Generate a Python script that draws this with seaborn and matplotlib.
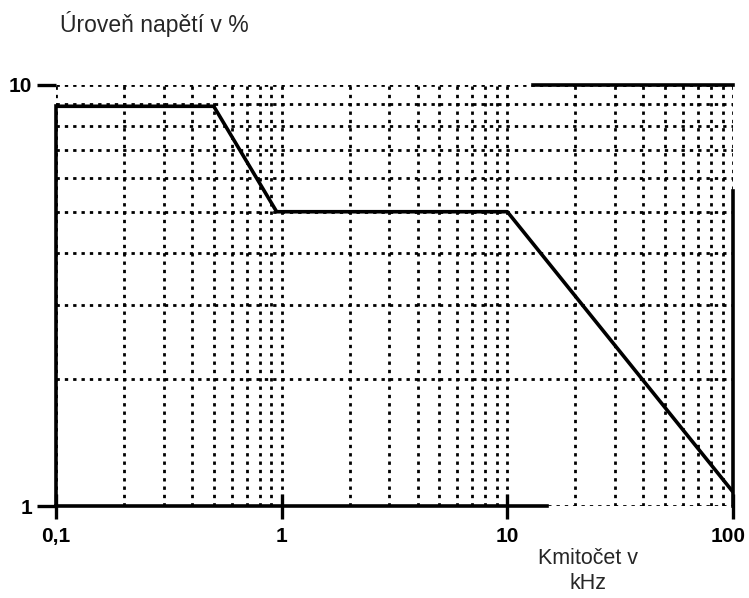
import matplotlib
matplotlib.use("Agg")
import matplotlib.pyplot as plt
import matplotlib.transforms as mtransforms
import seaborn as sns
from matplotlib.ticker import LogLocator, NullFormatter

# frequency (kHz) vs. voltage level (%)
freq_khz = [0.1, 0.5, 0.95, 10, 100]
level_pct = [8.9, 8.9, 5.0, 5.0, 1.08]

x_ticks = [0.1, 1, 10, 100]
x_labels = ["0,1", "1", "10", "100"]
y_ticks = [1, 10]
y_labels = ["1", "10"]

sns.set_style("white")
plt.rcParams["font.family"] = ["Liberation Sans", "DejaVu Sans"]

fig = plt.figure(figsize=(7.49, 5.98), dpi=100)
ax = fig.add_axes([0.0748, 0.1538, 0.9038, 0.7041])

sns.lineplot(x=freq_khz, y=level_pct, color="black", linewidth=2.6, ax=ax, zorder=3)

ax.set_xscale("log")
ax.set_yscale("log")
ax.set_xlim(0.1, 100)
ax.set_ylim(1, 10)

ax.set_xticks(x_ticks)
ax.set_xticklabels(x_labels, fontsize=15, fontweight="bold")
ax.set_yticks(y_ticks)
ax.set_yticklabels(y_labels, fontsize=15, fontweight="bold")
ax.xaxis.set_minor_locator(LogLocator(base=10, subs=range(2, 10)))
ax.yaxis.set_minor_locator(LogLocator(base=10, subs=range(2, 10)))
ax.xaxis.set_minor_formatter(NullFormatter())
ax.yaxis.set_minor_formatter(NullFormatter())

ax.tick_params(axis="x", which="major", bottom=True, direction="inout", length=18,
               width=2.4, pad=6, colors="black")
ax.tick_params(axis="y", which="major", left=True, direction="out", length=14,
               width=2.4, pad=3, colors="black")
ax.tick_params(which="minor", length=0)

# keep the last x label inside the figure
last = ax.get_xticklabels()[-1]
last.set_transform(last.get_transform()
                   + mtransforms.ScaledTranslation(-5 / 100, 0, fig.dpi_scale_trans))

# dotted grid, like the scanned original
ax.grid(True, which="both", color="black", linestyle=(0, (1.2, 1.8)), linewidth=2.0)
ax.set_axisbelow(True)

for side in ["left", "bottom", "right", "top"]:
    ax.spines[side].set_visible(True)
    ax.spines[side].set_color("black")
    ax.spines[side].set_linewidth(2.6)
ax.spines["left"].set_bounds(1, 8.9)
ax.spines["bottom"].set_bounds(0.1, 15)
ax.spines["right"].set_bounds(1, 5.6)
ax.spines["top"].set_bounds(13, 100)

ax.set_xlabel("")
ax.set_ylabel("")

fig.text(0.080, 0.960, "Úroveň napětí v %", fontsize=16.5, ha="left", va="center")
fig.text(0.785, 0.045, "Kmitočet v\nkHz", fontsize=15.5, ha="center", va="center",
         linespacing=1.25)

fig.savefig("out.png", dpi=100)
